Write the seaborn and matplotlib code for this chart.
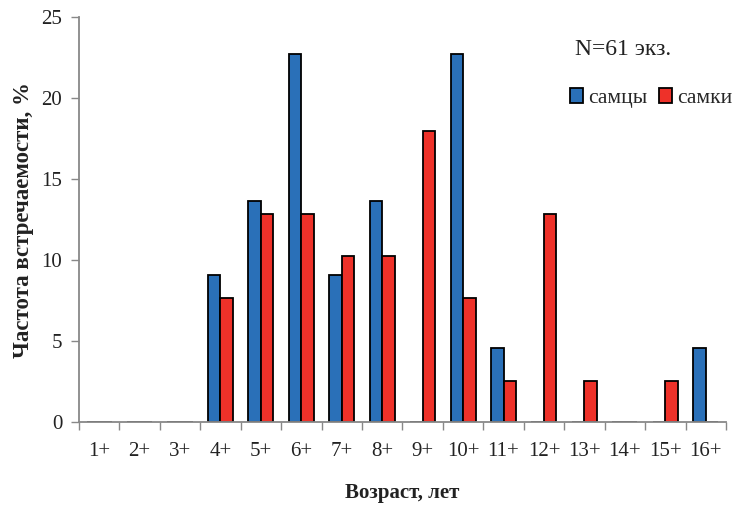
import matplotlib
matplotlib.use("Agg")
import matplotlib.pyplot as plt
import seaborn as sns
import pandas as pd
import numpy as np
from matplotlib.patches import Patch

ages = ["1+", "2+", "3+", "4+", "5+", "6+", "7+", "8+", "9+", "10+", "11+", "12+", "13+", "14+", "15+", "16+"]
males = [0, 0, 0, 9.09, 13.64, 22.73, 9.09, 13.64, 0, 22.73, 4.55, 0, 0, 0, 0, 4.55]
females = [0, 0, 0, 7.69, 12.82, 12.82, 10.26, 10.26, 17.95, 7.69, 2.56, 12.82, 2.56, 0, 2.56, 0]
series = ["самцы", "самки"]
colors = ["#2a70b8", "#ee3129"]

df = pd.DataFrame({
    "age": ages * 2,
    "value": males + females,
    "sex": [series[0]] * len(ages) + [series[1]] * len(ages),
})

sns.set_style("white")
plt.rcParams["font.family"] = ["Liberation Serif", "DejaVu Serif"]

fig = plt.figure(figsize=(7.37, 5.05), dpi=100)
ax = fig.add_axes([0.107, 0.164, 0.878, 0.802])

sns.barplot(data=df, x="age", y="value", hue="sex", order=ages, hue_order=series,
            palette=colors, saturation=1, width=0.62, edgecolor="black", linewidth=1.3,
            ax=ax, legend=False)

ax.set_ylim(0, 25)
ax.set_xlim(-0.5, len(ages) - 0.5)
ax.set_yticks([0, 5, 10, 15, 20, 25])
ax.set_yticklabels(["0", "5", "10", "15", "20", "25"], fontsize=15, color="#222222")
ax.set_xticks(range(len(ages)))
ax.set_xticklabels(ages, fontsize=15, color="#222222")
ax.set_xticks(np.arange(-0.5, len(ages), 1.0), minor=True)
ax.tick_params(axis="x", which="major", length=0, pad=14)
ax.tick_params(axis="x", which="minor", length=6, width=1, color="#888888", direction="out", bottom=True)
ax.tick_params(axis="y", length=6, width=1, color="#888888", direction="out", left=True, pad=6)

for s in ["top", "right"]:
    ax.spines[s].set_visible(False)
for s in ["left", "bottom"]:
    ax.spines[s].set_color("#888888")
    ax.spines[s].set_linewidth(1.3)

ax.set_xlabel("Возраст, лет", fontsize=15, fontweight="bold", labelpad=16, color="#222222")
ax.set_ylabel("Частота встречаемости, %", fontsize=16.5, fontweight="bold", labelpad=5, color="#222222")

ax.text(0.767, 0.92, "N=61 экз.", transform=ax.transAxes, fontsize=17, color="#222222", va="center")

handles = [Patch(facecolor=c, edgecolor="black", linewidth=1.3) for c in colors]
ax.legend(handles, series, loc="center left", bbox_to_anchor=(0.752, 0.80), frameon=False,
          fontsize=15.5, handlelength=0.6, handleheight=0.7, handletextpad=0.25,
          columnspacing=0.55, ncol=2, borderpad=0.2, borderaxespad=0.0)

fig.savefig("out.png", dpi=100)
